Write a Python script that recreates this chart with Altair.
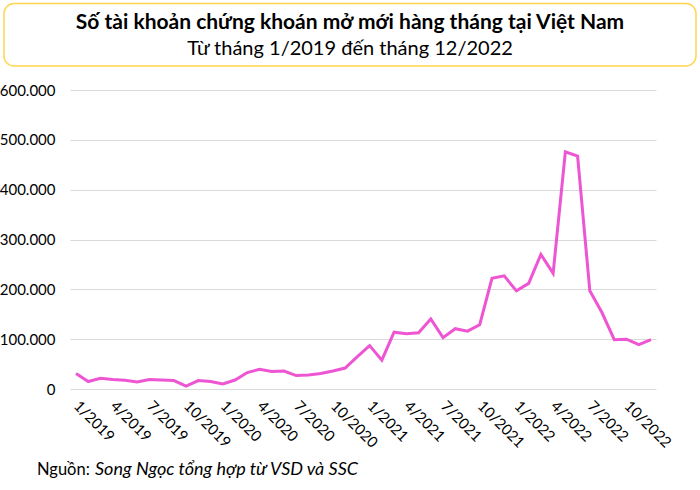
import altair as alt
import pandas as pd

# ---- data ----
month_labels = [
    "1/2019", "2/2019", "3/2019", "4/2019", "5/2019", "6/2019", "7/2019", "8/2019", "9/2019", "10/2019", "11/2019", "12/2019",
    "1/2020", "2/2020", "3/2020", "4/2020", "5/2020", "6/2020", "7/2020", "8/2020", "9/2020", "10/2020", "11/2020", "12/2020",
    "1/2021", "2/2021", "3/2021", "4/2021", "5/2021", "6/2021", "7/2021", "8/2021", "9/2021", "10/2021", "11/2021", "12/2021",
    "1/2022", "2/2022", "3/2022", "4/2022", "5/2022", "6/2022", "7/2022", "8/2022", "9/2022", "10/2022", "11/2022", "12/2022",
]
accounts = [
    31000, 15000, 21500, 19000, 17500, 14000, 19000, 18000, 17000, 6000, 17000, 15000,
    10000, 18000, 33000, 39500, 35000, 36000, 27000, 28000, 31000, 36000, 42000, 65000,
    87000, 58000, 114000, 111000, 113000, 140700, 103000, 121000, 116000, 129000, 222000, 227000,
    197000, 212000, 270000, 232000, 476000, 467500, 197000, 153000, 99000, 100000, 89000, 99000,
]
tick_positions = [0, 3, 6, 9, 12, 15, 18, 21, 24, 27, 30, 33, 36, 39, 42, 45]
tick_labels = ["1/2019", "4/2019", "7/2019", "10/2019", "1/2020", "4/2020", "7/2020", "10/2020",
               "1/2021", "4/2021", "7/2021", "10/2021", "1/2022", "4/2022", "7/2022", "10/2022"]
y_ticks = [0, 100000, 200000, 300000, 400000, 500000, 600000]

title_text = "Số tài khoản chứng khoán mở mới hàng tháng tại Việt Nam"
subtitle_text = "Từ tháng 1/2019 đến tháng 12/2022"
source_label = "Nguồn:"
source_text = "Song Ngọc tổng hợp từ VSD và SSC"

df = pd.DataFrame({"i": list(range(len(accounts))), "month": month_labels, "accounts": accounts})

FONT = "Lato"
label_map = "{" + ",".join(f"'{p}':'{t}'" for p, t in zip(tick_positions, tick_labels)) + "}"

line = alt.Chart(df).mark_line(color="#EE55D3", strokeWidth=3, strokeJoin="miter").encode(
    x=alt.X(
        "i:Q",
        scale=alt.Scale(domain=[-0.4904, 47.409], nice=False, zero=False),
        axis=alt.Axis(
            values=tick_positions,
            labelExpr=f"{label_map}[datum.value]",
            labelAngle=45,
            labelAlign="left",
            labelBaseline="middle",
            labelFont=FONT,
            labelFontSize=15,
            labelColor="#000000",
            labelOverlap=False,
            labelFlush=False,
            labelPadding=14,
            domain=False,
            ticks=False,
            grid=False,
            title=None,
        ),
    ),
    y=alt.Y(
        "accounts:Q",
        scale=alt.Scale(domain=[0, 600000], nice=False),
        axis=alt.Axis(
            values=y_ticks,
            labelExpr="replace(format(datum.value, ','), ',', '.')",
            labelFont=FONT,
            labelFontSize=15,
            labelColor="#000000",
            labelPadding=15,
            domain=False,
            ticks=False,
            grid=True,
            gridColor="#d9d9d9",
            gridWidth=1,
            title=None,
        ),
    ),
)

one = alt.Data(values=[{}])

box = alt.Chart(one).mark_rect(
    fill="transparent", stroke="#FFD54F", strokeWidth=1.5, cornerRadius=10
).encode(
    x=alt.value(-66), x2=alt.value(626), y=alt.value(-86.5), y2=alt.value(-24)
)

title = alt.Chart(one).mark_text(
    text=title_text, font=FONT, fontSize=21, fontWeight="bold", color="#000000",
    align="center", baseline="middle"
).encode(x=alt.value(280), y=alt.value(-67.5))

subtitle = alt.Chart(one).mark_text(
    text=subtitle_text, font=FONT, fontSize=20, color="#000000",
    align="center", baseline="middle"
).encode(x=alt.value(280), y=alt.value(-41.5))

src1 = alt.Chart(one).mark_text(
    text=source_label, font=FONT, fontSize=16.5, color="#000000",
    align="left", baseline="middle"
).encode(x=alt.value(-33), y=alt.value(380))

src2 = alt.Chart(one).mark_text(
    text=source_text, font=FONT, fontSize=18, fontStyle="italic", color="#000000",
    align="left", baseline="middle"
).encode(x=alt.value(25), y=alt.value(380))

chart = alt.layer(line, box, title, subtitle, src1, src2).properties(
    width=586,
    height=299,
    padding={"left": 70, "top": 90, "right": 44, "bottom": 101},
    autosize=alt.AutoSizeParams(type="none"),
    background="white",
).configure_view(stroke=None)

chart.save("out.html", embed_options={"renderer": "svg", "actions": False})
